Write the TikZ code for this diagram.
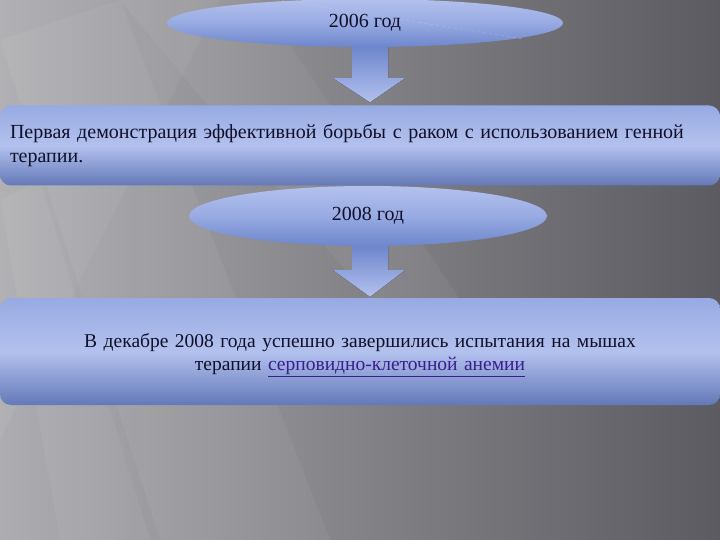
\documentclass[tikz,border=0pt]{standalone}
\usepackage{fontspec}
\setmainfont{Liberation Serif}
\usetikzlibrary{shapes.geometric,calc}
\definecolor{bgL}{HTML}{ADADB1}
\definecolor{bgM}{HTML}{828287}
\definecolor{bgR}{HTML}{5C5B61}
\definecolor{bluehi}{HTML}{B3C1EE}
\definecolor{bluemid}{HTML}{97AAE2}
\definecolor{bluelo}{HTML}{6E86CC}
\definecolor{txt}{HTML}{10102A}
\definecolor{linkc}{HTML}{3A1D8E}
\tikzset{
  ovalbox/.style={ellipse, inner sep=0pt, top color=bluehi, bottom color=bluelo, middle color=bluemid, text=txt, font=\fontsize{20}{22}\selectfont},
  panel/.style={rectangle, rounded corners=11pt, inner sep=0pt, top color=bluemid, bottom color=bluelo!90!black, middle color=bluehi, text=txt},
  paneltext/.style={inner sep=0pt, text=txt},
  blockarrow/.style={top color=bluelo, bottom color=bluehi, draw=none},
  ray/.style={white, opacity=0.05}
}
\begin{document}
\begin{tikzpicture}[x=1pt,y=-1pt]
\useasboundingbox (0,0) rectangle (720,540);
% background
\shade[left color=bgL, right color=bgR, middle color=bgM] (0,0) rectangle (720,540);
\fill[ray] (0,40) -- (120,0) -- (330,540) -- (160,540) -- cycle;
\fill[ray] (0,200) -- (40,180) -- (150,540) -- (60,540) -- cycle;
\fill[ray] (120,0) -- (260,0) -- (480,330) -- (420,360) -- cycle;
\fill[white, opacity=0.05] (0,0) -- (220,0) -- (0,440) -- cycle;
% nodes
\node[ovalbox, minimum width=396pt, minimum height=48pt] (e1) at (365,23) {2006 год};
\draw[white!80!blue, dashed, opacity=0.5, line width=0.4pt] ($(e1.north)+(-95,0)$) -- ($(e1.east)+(-40,16)$);
\node[panel, minimum width=720pt, minimum height=80pt, text width=700pt, align=left, font=\fontsize{20}{24}\selectfont] (b1) at (360,145.5)
  {Первая демонстрация эффективной борьбы с раком с использованием генной терапии.};
\node[ovalbox, minimum width=358pt, minimum height=60pt] (e2) at (368,216) {2008 год};
\node[panel, minimum width=720pt, minimum height=107pt] (b2) at (360,351.5) {};
\node[paneltext, text width=640pt, align=center, font=\fontsize{19.5}{22.5}\selectfont] (t2) at ($(b2.center)+(0,3.5)$)
  {В декабре 2008 года успешно завершились испытания на мышах\\ терапии {\color{linkc}\underline{серповидно-клеточной анемии}}};
% block arrows
\fill[blockarrow] ($(e1.south)+(-13,0)$) -- ($(e1.south)+(23,0)$) -- ($(e1.south)+(23,31)$) -- ($(e1.south)+(40,31)$)
  -- ($(b1.north)+(10,-3)$) -- ($(e1.south)+(-32,31)$) -- ($(e1.south)+(-13,31)$) -- cycle;
\fill[blockarrow] ($(e2.south)+(-16,0)$) -- ($(e2.south)+(20,0)$) -- ($(e2.south)+(20,24)$) -- ($(e2.south)+(37,24)$)
  -- ($(b2.north)+(10,-1)$) -- ($(e2.south)+(-35,24)$) -- ($(e2.south)+(-16,24)$) -- cycle;
\end{tikzpicture}
\end{document}
